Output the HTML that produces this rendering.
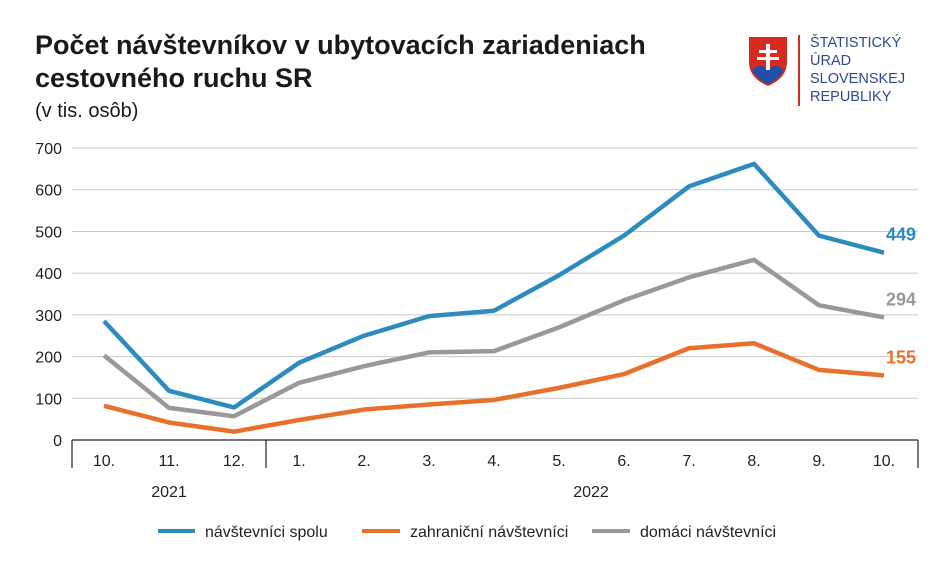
<!DOCTYPE html>
<html><head><meta charset="utf-8"><style>
body{margin:0;background:#fff;font-family:"Liberation Sans",sans-serif;}
</style></head><body>
<svg width="951" height="573" xmlns="http://www.w3.org/2000/svg" font-family="Liberation Sans, sans-serif">
<text x="35" y="54" font-size="27" font-weight="bold" fill="#1a1a1a">Počet návštevníkov v ubytovacích zariadeniach</text>
<text x="35" y="87" font-size="27" font-weight="bold" fill="#1a1a1a">cestovného ruchu SR</text>
<text x="35" y="117" font-size="20" fill="#1a1a1a">(v tis. osôb)</text>
<g>
<path d="M749 37 H787 V62 Q787 78 768 86 Q749 78 749 62 Z" fill="#d52b1e"/>
<path d="M752 70 Q760 62 768 70 Q776 62 784 70 Q778 80 768 84 Q758 80 752 70Z" fill="#1f4fa8"/>
<rect x="766" y="44" width="4" height="26" fill="#fff"/><rect x="759" y="50" width="18" height="3" fill="#fff"/><rect x="757" y="57" width="22" height="3" fill="#fff"/>
<line x1="799" y1="35" x2="799" y2="106" stroke="#d52b1e" stroke-width="2"/>
<g font-size="14.5" fill="#2b4a8c"><text x="810" y="47">ŠTATISTICKÝ</text><text x="810" y="65">ÚRAD</text><text x="810" y="83">SLOVENSKEJ</text><text x="810" y="101">REPUBLIKY</text></g>
</g>
<g id="grid"></g><g id="axes"></g><g id="series"></g>
<g font-size="16" fill="#222">
<line x1="158" y1="531" x2="195" y2="531" stroke="#2e8bc0" stroke-width="4"/><text x="205" y="537">návštevníci spolu</text>
<line x1="362" y1="531" x2="400" y2="531" stroke="#e8702a" stroke-width="4"/><text x="410" y="537">zahraniční návštevníci</text>
<line x1="592" y1="531" x2="630" y2="531" stroke="#999" stroke-width="4"/><text x="640" y="537">domáci návštevníci</text>
</g>
</svg>
<script>
const categories=["10.","11.","12.","1.","2.","3.","4.","5.","6.","7.","8.","9.","10."];
const spolu=[285,118,78,185,250,297,310,395,490,608,662,490,449];
const zahranicni=[82,42,20,48,73,85,96,125,158,220,232,168,155];
const domaci=[203,77,57,137,177,210,213,270,335,390,432,323,294];
const yTicks=[0,100,200,300,400,500,600,700];
const NS="http://www.w3.org/2000/svg";
const x=i=>104+i*65, y=v=>440-v*0.4171;
function mk(t,a,p){const e=document.createElementNS(NS,t);for(const k in a)e.setAttribute(k,a[k]);document.getElementById(p).appendChild(e);return e;}
yTicks.forEach(v=>{
 if(v>0){const l=mk('line',{x1:72,x2:918,y1:y(v),y2:y(v),stroke:'#c8c8c8','stroke-width':1},'grid');
 
 }
 const t=mk('text',{x:62,y:y(v)+6,'text-anchor':'end','font-size':16,fill:'#222'},'grid');t.textContent=v;
 
 
});
mk('line',{x1:72,x2:918,y1:440,y2:440,stroke:'#222','stroke-width':1.2},'axes');
[72,266,918].forEach(px=>mk('line',{x1:px,x2:px,y1:440,y2:468,stroke:'#222','stroke-width':1.2},'axes'));
categories.forEach((c,i)=>{const t=mk('text',{x:x(i),y:466,'text-anchor':'middle','font-size':16,fill:'#222'},'axes');t.textContent=c;
 
 });
[["2021",169],["2022",591]].forEach(([s,px])=>{const t=mk('text',{x:px,y:497,'text-anchor':'middle','font-size':16,fill:'#222'},'axes');t.textContent=s;
 
 });
[[domaci,'#999','domaci'],[zahranicni,'#e8702a','zahranicni'],[spolu,'#2e8bc0','spolu']].forEach(([d,c,n])=>{
 const p=mk('polyline',{points:d.map((v,i)=>x(i)+','+y(v)).join(' '),fill:'none',stroke:c,'stroke-width':4.5,'stroke-linejoin':'round'},'series');
 
 
 const last=d[d.length-1];
 const t=mk('text',{x:916,y:y(last)-12,'text-anchor':'end','font-size':18,'font-weight':'bold',fill:c},'series');t.textContent=last;
 
 
});
</script>
</body></html>
